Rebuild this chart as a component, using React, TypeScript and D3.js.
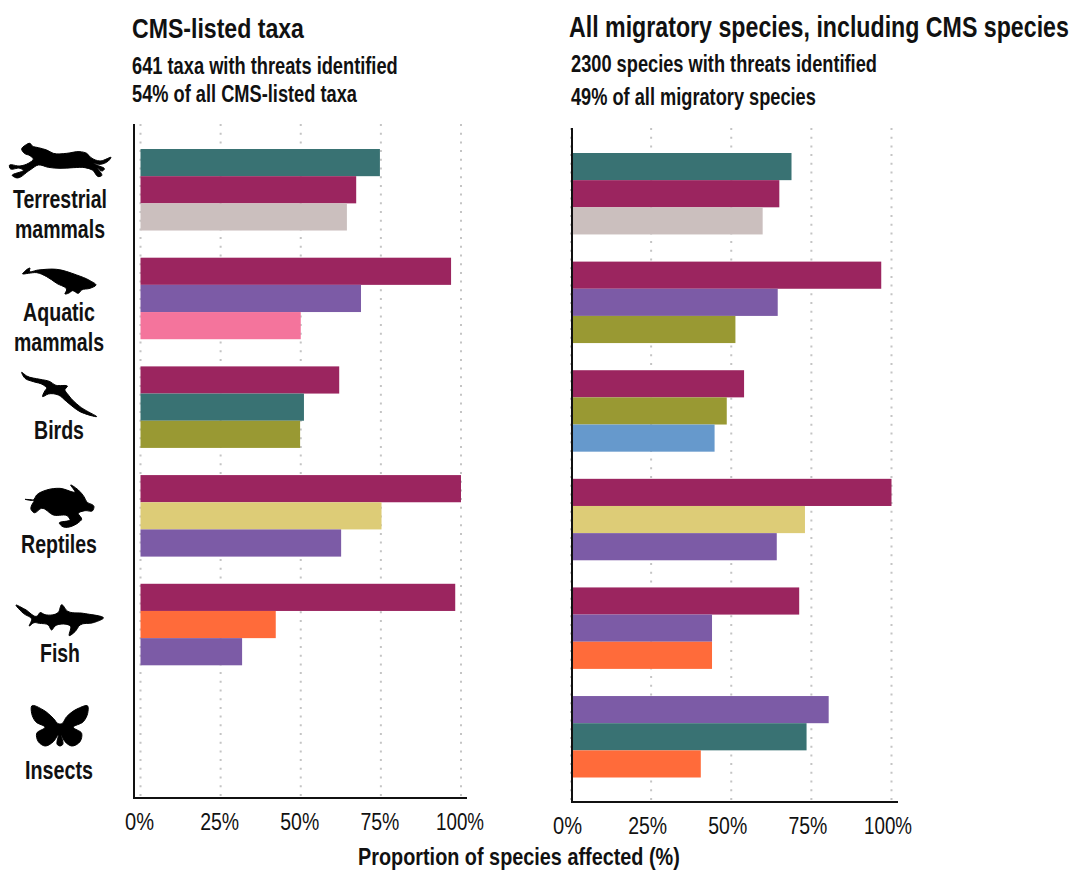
import React from "react";
import * as d3 from "d3";

const categories = ["Terrestrial mammals", "Aquatic mammals", "Birds", "Reptiles", "Fish", "Insects"];
const ticks = [0, 25, 50, 75, 100];

// threat keys are only told apart by colour in the picture (no legend)
const threatKeys = ["teal", "wine", "taupe", "purple", "pink", "olive", "blue", "sand", "orange"];
const threatColors = ["#397273", "#9b255f", "#cbbfbe", "#7c5ba6", "#f4749c", "#999933", "#6699cc", "#ddcc77", "#ff6b3a"];

const cmsThreats = [
  ["teal", "wine", "taupe"],
  ["wine", "purple", "pink"],
  ["wine", "teal", "olive"],
  ["wine", "sand", "purple"],
  ["wine", "orange", "purple"],
  [],
];
const cmsValues = [
  [74.7, 67.3, 64.4],
  [96.9, 68.8, 50],
  [62, 51, 49.8],
  [100, 75.2, 62.6],
  [98.2, 42.2, 31.7],
  [],
];

const allThreats = [
  ["teal", "wine", "taupe"],
  ["wine", "purple", "olive"],
  ["wine", "olive", "blue"],
  ["wine", "sand", "purple"],
  ["wine", "purple", "orange"],
  ["purple", "teal", "orange"],
];
const allValues = [
  [68.8, 65, 59.8],
  [96.8, 64.5, 51.3],
  [54, 48.6, 44.8],
  [100, 73, 64.2],
  [71.2, 44, 44],
  [80.4, 73.5, 40.5],
];

// silhouettes, traced at 3x from the picture
const cheetah = [[50,42],[62,30],[75,25],[82,33],[100,38],[125,45],[145,55],[185,55],[225,50],[245,55],[258,68],[285,78],[318,68],[310,78],[285,88],[265,85],[275,90],[298,103],[292,108],[278,100],[290,122],[282,125],[262,105],[240,98],[205,98],[165,100],[130,97],[100,90],[75,105],[32,128],[22,122],[55,105],[45,100],[15,100],[13,92],[45,93],[70,85],[85,72],[75,62],[58,55]];
const whale = [[68,462],[90,445],[88,453],[115,450],[170,448],[230,465],[270,482],[288,495],[270,505],[245,510],[235,520],[218,512],[205,520],[195,522],[200,510],[170,490],[140,470],[110,458],[85,460]];
const bird = [[65,757],[80,768],[120,778],[150,785],[165,795],[202,800],[195,808],[205,825],[240,860],[290,890],[240,875],[200,845],[175,825],[145,822],[128,830],[135,812],[140,805],[130,795],[100,785],[75,775]];
const turtle = [[15,58],[40,60],[50,45],[80,30],[120,25],[165,35],[152,15],[175,30],[192,50],[200,65],[222,80],[218,92],[195,92],[175,100],[185,118],[175,128],[125,138],[118,130],[150,118],[145,110],[100,105],[65,85],[42,98],[33,88],[38,70],[42,64]];
const shark = [[18,15],[45,28],[82,48],[90,38],[105,44],[145,37],[155,14],[172,33],[220,40],[280,55],[250,68],[210,75],[195,95],[178,107],[182,80],[135,78],[125,90],[115,75],[88,70],[72,68],[58,78],[65,58],[40,40]];
const butterfly = [[20,18],[55,30],[85,55],[102,72],[108,72],[125,50],[160,25],[188,18],[188,40],[175,65],[145,82],[170,100],[165,125],[140,138],[120,125],[108,105],[112,135],[105,138],[98,135],[100,105],[85,125],[60,138],[40,125],[35,100],[60,82],[32,65],[20,40]];

const color = d3.scaleOrdinal<string, string>(threatKeys, threatColors);
const iconLine = d3.line().curve(d3.curveCatmullRomClosed.alpha(1));
const font = "'Liberation Sans Narrow', 'Liberation Sans', Arial, sans-serif";

const ctx = document.createElement("canvas").getContext("2d") as CanvasRenderingContext2D;

// squeezes the text to the width it has in the picture
const Label = ({ x, y, w, size, bold = true, anchor = "start", children }: any) => {
  const str = String(children);
  ctx.font = `${bold ? 700 : 400} ${size}px ${font}`;
  const sx = w / ctx.measureText(str).width;
  return (
    <text transform={`translate(${x},${y}) scale(${sx},1)`} fontFamily={font} fontSize={size}
      fontWeight={bold ? 700 : 400} fill="#111" textAnchor={anchor}>{str}</text>
  );
};

const Icon = ({ pts, ox, oy }: any) => (
  <path transform={`translate(${ox},${oy}) scale(0.3333)`} d={iconLine(pts) as string} fill="#000"
    stroke="#000" strokeWidth={3} strokeLinejoin="round" />
);

const Panel = ({ threats, values, x0, x100, axisX, axisEnd, top, bottom, barTop, barBottom, tickShift }: any) => {
  const x = d3.scaleLinear().domain([0, 100]).range([x0, x100]);
  const y = d3.scaleBand().domain(categories).range([barTop, barBottom]).paddingInner(0.25);
  const inner = d3.scaleBand<number>().domain([0, 1, 2]).range([0, y.bandwidth()]);
  return (
    <g>
      {ticks.map((t) => (
        <line key={t} x1={x(t)} x2={x(t)} y1={top} y2={bottom} stroke="#c4c4c4" strokeWidth={2} strokeDasharray="2 6.7" />
      ))}
      {categories.map((c, i) =>
        (values[i] as number[]).map((v, j) => (
          <rect key={c + j} x={x0} y={(y(c) as number) + (inner(j) as number)} width={x(v) - x0} height={inner.bandwidth()}
            fill={color(threats[i][j])} />
        ))
      )}
      <line x1={axisX} x2={axisX} y1={top} y2={bottom + 1} stroke="#111" strokeWidth={2} />
      <line x1={axisX - 1} x2={axisEnd} y1={bottom} y2={bottom} stroke="#111" strokeWidth={2} />
      {ticks.map((t) => (
        <Label key={t} x={x(t) + tickShift} y={bottom + 32} size={24} bold={false} anchor="middle" w={t === 0 ? 29 : t === 100 ? 48 : 39}>{`${t}%`}</Label>
      ))}
    </g>
  );
};

export default function App() {
  return (
    <svg width={1073} height={870} style={{ position: "absolute", left: 0, top: 0, background: "#fff" }}>
      <Label x={132} y={38} w={172} size={28}>CMS-listed taxa</Label>
      <Label x={132} y={74} w={266} size={23}>641 taxa with threats identified</Label>
      <Label x={132} y={102} w={225} size={23}>54% of all CMS-listed taxa</Label>
      <Label x={569} y={37} w={500} size={29}>All migratory species, including CMS species</Label>
      <Label x={571} y={72} w={306} size={23}>2300 species with threats identified</Label>
      <Label x={571} y={105} w={245} size={23}>49% of all migratory species</Label>

      <Panel threats={cmsThreats} values={cmsValues} x0={140.5} x100={461} axisX={134} axisEnd={467}
        top={124} bottom={798} barTop={149} barBottom={774} tickShift={-1} />
      <Panel threats={allThreats} values={allValues} x0={571} x100={891.5} axisX={572} axisEnd={898}
        top={128} bottom={802} barTop={153} barBottom={777.5} tickShift={-3.5} />

      <Icon pts={cheetah} ox={5} oy={135} />
      <Icon pts={whale} ox={0} oy={120} />
      <Icon pts={bird} ox={0} oy={120} />
      <Icon pts={turtle} ox={20} oy={480} />
      <Icon pts={shark} ox={10} oy={600} />
      <Icon pts={butterfly} ox={25} oy={700} />

      <Label x={60} y={208} w={94} size={25} anchor="middle">Terrestrial</Label>
      <Label x={60} y={238} w={90} size={25} anchor="middle">mammals</Label>
      <Label x={59} y={321} w={72} size={25} anchor="middle">Aquatic</Label>
      <Label x={59} y={351} w={90} size={25} anchor="middle">mammals</Label>
      <Label x={59} y={439} w={50} size={25} anchor="middle">Birds</Label>
      <Label x={59} y={553} w={76} size={25} anchor="middle">Reptiles</Label>
      <Label x={60} y={662} w={40} size={25} anchor="middle">Fish</Label>
      <Label x={59} y={779} w={68} size={25} anchor="middle">Insects</Label>

      <Label x={358} y={865} w={322} size={23}>Proportion of species affected (%)</Label>
    </svg>
  );
}
